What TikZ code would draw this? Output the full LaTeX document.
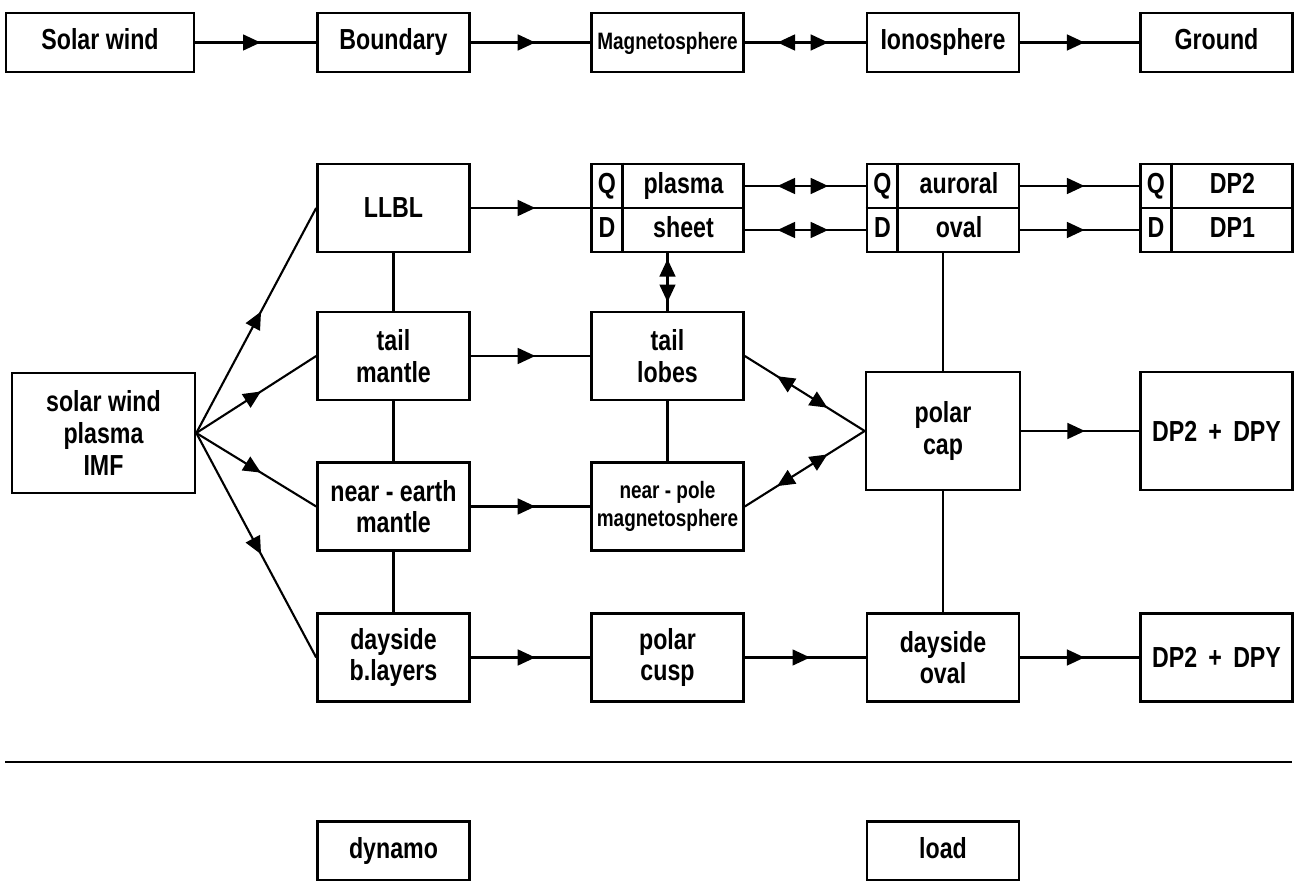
\documentclass[tikz,border=0pt]{standalone}
\usepackage{fontspec}
\setmainfont[FakeStretch=0.8]{Liberation Sans}
\usetikzlibrary{arrows.meta,decorations.markings}

\begin{document}
\begin{tikzpicture}[x=0.02cm,y=-0.02cm,>={Triangle[length=10pt,width=9pt]},
  every node/.style={font=\fontsize{16.5}{18}\selectfont\bfseries},
  small/.style={font=\fontsize{13.5}{16}\selectfont\bfseries},
  blk/.style={draw,line width=1.5pt,minimum width=3.04cm,minimum height=1.76cm,inner sep=0pt,align=center},
  hdr/.style={blk,minimum height=1.18cm,text height=12pt,text depth=3.5pt},
  cell/.style={inner sep=0pt,text height=12pt,text depth=3.5pt},
  lnk/.style={line width=1.2pt},
  fwd/.style={lnk,postaction=decorate,decoration={markings,mark=at position .54 with {\arrow{>}}}},
  tips/.style 2 args={lnk,postaction=decorate,decoration={markings,mark=at position #1 with {\arrowreversed{>}},mark=at position #2 with {\arrow{>}}}},
  twoway/.style={tips={.27}{.69}}]
\useasboundingbox (0,0) rectangle (1296,881);
% chain of regions
\node[hdr,minimum width=3.76cm] (sw) at (100,42.5) {Solar wind};
\node[hdr] (bnd) at (393.5,42.5) {Boundary};
\node[hdr,small] (msph) at (667.5,42.5) {Magnetosphere};
\node[hdr] (iono) at (943,42.5) {Ionosphere};
\node[hdr] (gnd) at (1216.5,42.5) {Ground};
\draw[fwd] (sw) -- (bnd);
\draw[fwd] (bnd) -- (msph);
\draw[twoway] (msph) -- (iono);
\draw[fwd] (iono) -- (gnd);
% source and boundary layers
\node[blk,minimum width=3.66cm,minimum height=2.4cm] (swp) at (103.5,433) {solar wind\\plasma\\IMF};
\node[blk] (llbl) at (393.5,208) {LLBL};
\node[blk] (tmant) at (393.5,356) {tail\\mantle};
\node[blk] (nmant) at (393.5,506.5) {near - earth\\mantle};
\node[blk] (dlay) at (393.5,657.5) {dayside\\b.layers};
\foreach \t in {llbl,tmant,nmant,dlay}{\draw[fwd] (swp.east) -- (\t.west);}
\draw[lnk] (llbl) -- (tmant) (tmant) -- (nmant) (nmant) -- (dlay);
% split boxes, Q above D
\foreach \n/\x/\q/\d in {psh/667.5/plasma/sheet,aur/943/auroral/oval,dp/1216.5/DP2/DP1}{
  \node[blk] (\n) at (\x,208) {};
  \draw[line width=1.5pt] (\n.west) -- (\n.east) ([xshift=0.64cm]\n.north west) -- ([xshift=0.64cm]\n.south west);
  \node[cell] (\n-q) at (\x-60.5,186) {Q}; \node[cell] at (\x+16,186) {\q};
  \node[cell] (\n-d) at (\x-60.5,230) {D}; \node[cell] at (\x+16,230) {\d};
}
\draw[fwd] (llbl) -- (psh);
\draw[twoway] (psh.east |- psh-q) -- (aur.west |- aur-q);
\draw[twoway] (psh.east |- psh-d) -- (aur.west |- aur-d);
\draw[fwd] (aur.east |- aur-q) -- (dp.west |- dp-q);
\draw[fwd] (aur.east |- aur-d) -- (dp.west |- dp-d);
% magnetosphere and polar cap
\node[blk] (lobes) at (667.5,356) {tail\\lobes};
\node[blk,small] (npole) at (667.5,506.5) {near - pole\\magnetosphere};
\node[blk,minimum width=3.08cm,minimum height=2.36cm] (pcap) at (943,431) {polar\\cap};
\node[blk,minimum height=2.36cm] (dpcap) at (1216.5,431) {DP2 \,+\, DPY};
\draw[fwd] (tmant) -- (lobes);
\draw[fwd] (nmant) -- (npole);
\draw[tips={.1}{.85}] (psh) -- (lobes);
\draw[lnk] (lobes) -- (npole);
\draw[twoway] (lobes.east) -- (pcap.west);
\draw[twoway] (npole.east) -- (pcap.west);
\draw[lnk] (aur) -- (pcap);
\draw[fwd] (pcap) -- (dpcap);
% dayside chain
\node[blk] (cusp) at (667.5,657.5) {polar\\cusp};
\node[blk] (doval) at (943,657.5) {dayside\\oval};
\node[blk] (dpday) at (1216.5,657.5) {DP2 \,+\, DPY};
\draw[lnk] (pcap) -- (doval);
\draw[fwd] (dlay) -- (cusp);
\draw[fwd] (cusp) -- (doval);
\draw[fwd] (doval) -- (dpday);
% dynamo / load
\draw[line width=1.6pt] (5,762) -- (1292,762);
\node[hdr] (dyn) at (393.5,851) {dynamo};
\node[hdr] (load) at (943,851) {load};
\end{tikzpicture}
\end{document}
